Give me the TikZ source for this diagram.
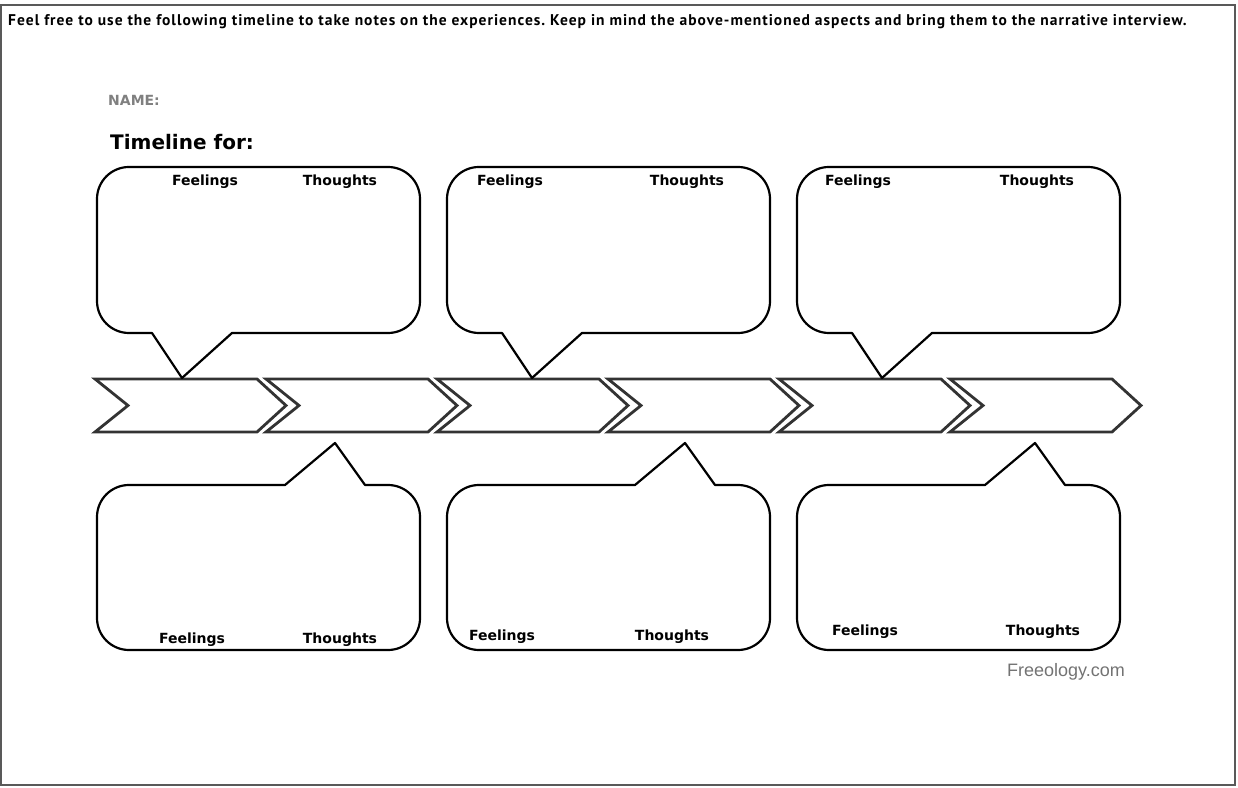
\documentclass[tikz,border=0pt]{standalone}
\usepackage{fontspec}
\newfontfamily\headfont[LetterSpace=6.5]{PT Sans}
\newfontfamily\verdfont{DejaVu Sans}
\newfontfamily\arialfont{Liberation Sans}
\usetikzlibrary{positioning}
\frenchspacing

\begin{document}
\begin{tikzpicture}[x=1pt, y=1pt,
	chev/.style={draw=black!80, line width=2.8pt, fill=white, line join=miter},
	bubble/.style={draw=black, line width=2.2pt, line join=round, fill=white},
	lbl/.style={font=\verdfont\bfseries\fontsize{14}{15}\selectfont, inner sep=0pt}]
	\useasboundingbox (0,0) rectangle (1238,787);
	\draw[draw=black!65, line width=1.6pt] (1,2) rectangle (1235,782);
	\node[anchor=west, inner sep=0pt, font=\headfont\bfseries\fontsize{15.5}{17}\selectfont] (head) at (8,765) {Feel free to use the following timeline to take notes on the experiences. Keep in mind the above-mentioned aspects and bring them to the narrative interview.};
	\node[anchor=west, inner sep=0pt, text=black!50, font=\verdfont\bfseries\fontsize{14}{16}\selectfont] (name) at (108,687) {NAME:};
	\node[anchor=west, inner sep=0pt, font=\verdfont\bfseries\fontsize{20}{22}\selectfont] (title) at (110,645) {Timeline for:};
	% arrows of the timeline
	\foreach \i in {0,...,5} {
		\draw[chev] (95+171*\i,408) -- ++(162,0) -- ++(29,-26.5) -- ++(-29,-26.5) -- ++(-162,0) -- ++(33,26.5) -- cycle;
	}
	% callouts above
	\foreach \x/\f/\t [count=\n] in {97/205/340, 447/510/687, 797/858/1037} {
		\draw[bubble] (\x+55,454) -- (\x+32,454) arc[start angle=270, end angle=180, radius=32]
			-- (\x,588) arc[start angle=180, end angle=90, radius=32]
			-- (\x+291,620) arc[start angle=90, end angle=0, radius=32]
			-- (\x+323,486) arc[start angle=0, end angle=-90, radius=32]
			-- (\x+135,454) -- (\x+85,409) -- cycle;
		\node[lbl] (feelUp\n) at (\f,605) {Feelings};
		\node[lbl] (thinkUp\n) at (\t,605) {Thoughts};
	}
	% callouts below
	\foreach \x/\f/\t/\h [count=\n] in {97/192/340/147, 447/502/672/150, 797/865/1043/155} {
		\draw[bubble] (\x+188,302) -- (\x+32,302) arc[start angle=90, end angle=180, radius=32]
			-- (\x,169) arc[start angle=180, end angle=270, radius=32]
			-- (\x+291,137) arc[start angle=270, end angle=360, radius=32]
			-- (\x+323,270) arc[start angle=0, end angle=90, radius=32]
			-- (\x+268,302) -- (\x+238,344) -- cycle;
		\node[lbl] (feelDown\n) at (\f,\h) {Feelings};
		\node[lbl] (thinkDown\n) at (\t,\h) {Thoughts};
	}
	\node[anchor=east, inner sep=0pt, text=black!55, font=\arialfont\fontsize{18}{19}\selectfont] (site) at (1125,115) {Freeology.com};
\end{tikzpicture}
\end{document}
